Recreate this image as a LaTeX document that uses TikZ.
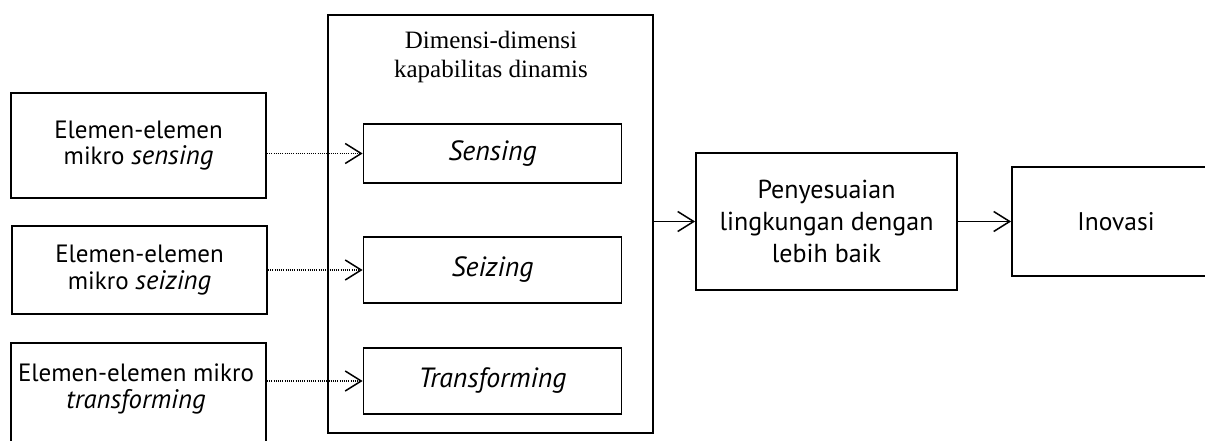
\documentclass[tikz,border=0pt]{standalone}
\usepackage{fontspec}
\setmainfont{Liberation Serif}
\newfontfamily\boxfont[ItalicFeatures={Scale=1.07}]{PT Sans}
\usetikzlibrary{arrows.meta}
\begin{document}
\begin{tikzpicture}[x=1pt,y=-1pt,
  box/.style={draw, line width=1.8pt, rectangle, inner sep=0pt, align=center,
    font=\boxfont\fontsize{25}{26.5}\selectfont},
  ttl/.style={inner sep=0pt, align=center, font=\fontsize{25}{29}\selectfont},
  txt/.style={inner sep=0pt, align=center, font=\boxfont\fontsize{25}{26.5}\selectfont},
  inner/.style={box, font=\boxfont\fontsize{26}{28}\selectfont},
  dotarrow/.style={dash pattern=on 1.1pt off 1.1pt, line width=1.1pt, -{Straight Barb[length=16pt,width=20pt,line width=1.5pt]}},
  solarrow/.style={line width=1.5pt, -{Straight Barb[length=16pt,width=20pt,line width=1.5pt]}}
]
\clip (0,0) rectangle (1205,441);
% left boxes
\node[box, minimum width=255pt, minimum height=105pt] (L1) at (138.5,145.5) {Elemen-elemen\\mikro \textit{sensing}};
\node[box, minimum width=255pt, minimum height=88pt] (L2) at (139.5,270) {Elemen-elemen\\mikro \textit{seizing}};
\node[box, minimum width=255pt, minimum height=140pt] (L3) at (138.5,413) {};
\node[txt] (L3t) at (136,389) {Elemen-elemen mikro\\\textit{transforming}};
% big box
\node[box, minimum width=325pt, minimum height=418pt] (D) at (490.5,224) {};
\node[ttl] (Dt) at (491,57) {Dimensi-dimensi\\kapabilitas dinamis};
% inner boxes
\node[inner, minimum width=258pt, minimum height=59pt] (S) at (492.5,153.5) {\textit{Sensing}};
\node[inner, minimum width=258pt, minimum height=66pt] (Z) at (492.5,270) {\textit{Seizing}};
\node[inner, minimum width=258pt, minimum height=66pt] (T) at (492.5,381) {\textit{Transforming}};
% right boxes
\node[box, minimum width=261pt, minimum height=137pt, font=\boxfont\fontsize{26}{32}\selectfont] (P) at (826.5,221.5) {Penyesuaian\\lingkungan dengan\\lebih baik};
\node[box, minimum width=208pt, minimum height=109pt, font=\boxfont\fontsize{25.5}{30}\selectfont] (I) at (1116,221.5) {Inovasi};
% connectors
\draw[dotarrow] (L1.east |- S.west) -- (S.west);
\draw[dotarrow] (L2.east |- Z.west) -- (Z.west);
\draw[dotarrow] (L3.east |- T.west) -- (T.west);
\draw[solarrow] (D.east |- P.west) -- (P.west);
\draw[solarrow] (P.east |- I.west) -- (I.west);
\end{tikzpicture}
\end{document}
